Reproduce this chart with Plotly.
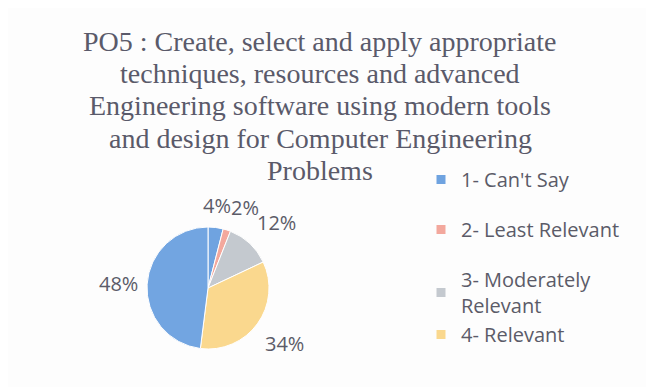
import math
import plotly.graph_objects as go

# survey responses for PO5 (percent of respondents)
categories = ["1- Can't Say", "2- Least Relevant", "3- Moderately Relevant",
              "4- Relevant", "5- Highly Relevant"]
values = [4, 2, 12, 34, 48]
colors = ["#6FA3E0", "#F3A89D", "#C4C9CF", "#FAD88E", "#72A5E1"]

# only the first four entries are visible in the (clipped) legend
legend_labels = ["1- Can't Say", "2- Least Relevant", "3- Moderately<br>Relevant",
                 "4- Relevant"]
legend_groups = ["a", "b", "c", "c"]

title_lines = [
    "PO5 : Create, select and apply appropriate",
    "techniques, resources and advanced",
    "Engineering software using modern tools",
    "and design for Computer Engineering",
    "Problems",
]

W, H = 654, 387
# page body adds an 8px margin, so positions are given relative to the figure
cx, cy, r = 200, 280, 61
TEXT_GREY = "#5B5B68"

fig = go.Figure()

fig.add_trace(go.Pie(
    labels=categories,
    values=values,
    sort=False,
    direction="clockwise",
    rotation=0,
    marker=dict(colors=colors, line=dict(color="white", width=1)),
    textinfo="none",
    hoverinfo="label+percent",
    showlegend=False,
    domain=dict(x=[(cx - r) / W, (cx + r) / W],
                y=[(H - cy - r) / H, (H - cy + r) / H]),
))

# percentage labels just outside each slice (Excel style, no leader lines)
total = sum(values)
cum = 0
for v in values:
    mid = (cum + v / 2) / total * 2 * math.pi
    cum += v
    s, c = math.sin(mid), math.cos(mid)
    px_ = cx + (r + 7) * s
    py_ = cy - (r + 7) * c
    xa = "left" if s > 0.2 else ("right" if s < -0.2 else "center")
    ya = "bottom" if c > 0.5 else ("top" if c < -0.5 else "middle")
    fig.add_annotation(
        x=px_ / W, y=1 - py_ / H, xref="paper", yref="paper",
        text=f"{round(v / total * 100)}%", showarrow=False,
        xanchor=xa, yanchor=ya,
        font=dict(family="Open Sans, sans-serif", size=20, color=TEXT_GREY),
    )

# title, one annotation per line to keep Excel's tight line spacing
for i, line in enumerate(title_lines):
    fig.add_annotation(
        x=312 / W, y=1 - (33 + i * 32.5) / H, xref="paper", yref="paper",
        text=line, showarrow=False, xanchor="center", yanchor="middle",
        font=dict(family="Liberation Serif, serif", size=28, color="#5A5A6A"),
    )

# legend entries as dummy markers
for i, lab in enumerate(legend_labels):
    fig.add_trace(go.Scatter(
        x=[None], y=[None], mode="markers", name=lab,
        legendgroup=legend_groups[i],
        marker=dict(symbol="square", size=9, color=colors[i]),
    ))

fig.update_layout(
    width=W, height=H,
    margin=dict(l=0, r=0, t=0, b=0),
    paper_bgcolor="#FDFDFD",
    plot_bgcolor="#FDFDFD",
    xaxis=dict(visible=False),
    yaxis=dict(visible=False),
    legend=dict(
        x=413 / W, xanchor="left",
        y=1 - 152 / H, yanchor="top",
        font=dict(family="Open Sans, sans-serif", size=20, color=TEXT_GREY),
        tracegroupgap=21,
        itemwidth=30,
        bgcolor="rgba(0,0,0,0)",
    ),
)

fig.write_html("out.html")
